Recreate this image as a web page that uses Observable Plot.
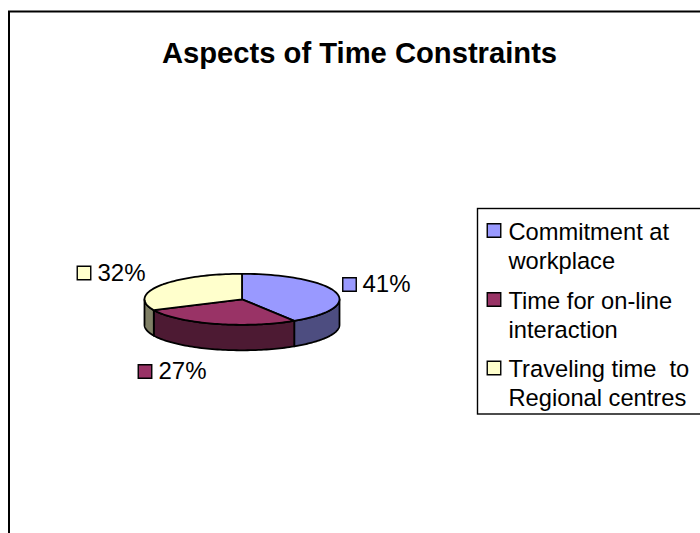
<!DOCTYPE html>
<html>
<head>
<meta charset="utf-8">
<script src="https://cdn.jsdelivr.net/npm/d3@7"></script>
<script src="https://cdn.jsdelivr.net/npm/@observablehq/plot@0.6"></script>
<style>html,body{margin:0;padding:0;background:#fff}svg{display:block}</style>
</head>
<body>
<div id="chart"></div>
<script>
const titleText = "Aspects of Time Constraints";
const categories = ["Commitment at workplace", "Time for on-line interaction", "Traveling time to Regional centres"];
const shares = [41, 27, 32];
const topColors = ["#9999ff", "#993366", "#ffffcc"];
const sideColors = ["#4d4d80", "#4d1a33", "#808066"];
const legendLines = ["Commitment at\nworkplace", "Time for on-line\ninteraction", "Traveling time  to\nRegional centres"];

// layout
const W = 700, H = 533;
const font = "Liberation Sans, Arial, sans-serif";
const pie = {cx: 241.5, cy: 298.8, rx: 97.5, ry: 25.5, depth: 25.5};
const labelAnchors = [
  {sx: 349, sy: 284, tx: 362, ty: 284},
  {sx: 144.5, sy: 371, tx: 158, ty: 371},
  {sx: 83.5, sy: 272.5, tx: 97, ty: 272.5}
];
const legendBox = {x1: 477.5, x2: 720, y1: 208.5, y2: 414};
const legendRows = [{sy: 230, ty: 245}, {sy: 299, ty: 313.5}, {sy: 367.5, ty: 381.5}];
const swatchX = 493.5, swatchR = 8.6, legendTextX = 508;

// pie geometry derived from shares
const total = d3.sum(shares);
const ends = d3.cumsum(shares).map(v => v / total * 2 * Math.PI);
const starts = ends.map((e, i) => i ? ends[i - 1] : 0);
const px = a => pie.cx + pie.rx * Math.sin(a);
const py = (a, drop = 0) => pie.cy - pie.ry * Math.cos(a) + drop;
const arc = (a0, a1) => d3.range(0, 61).map(i => a0 + (a1 - a0) * i / 60);

const sides = [], tops = [];
categories.forEach((c, i) => {
  const a0 = Math.max(starts[i], Math.PI / 2), a1 = Math.min(ends[i], 3 * Math.PI / 2);
  if (a1 > a0) {
    const angles = arc(a0, a1);
    angles.forEach(a => sides.push({key: c, x: px(a), y: py(a), color: sideColors[i]}));
    angles.slice().reverse().forEach(a => sides.push({key: c, x: px(a), y: py(a, pie.depth), color: sideColors[i]}));
  }
  tops.push({key: c, x: pie.cx, y: pie.cy, color: topColors[i]});
  arc(starts[i], ends[i]).forEach(a => tops.push({key: c, x: px(a), y: py(a), color: topColors[i]}));
});

const pieLabels = shares.map((v, i) => ({text: v + "%", color: topColors[i], ...labelAnchors[i]}));
const legendData = legendLines.map((t, i) => ({text: t, color: topColors[i], ...legendRows[i]}));
const swatches = [
  ...pieLabels.map(d => ({x: d.sx, y: d.sy, color: d.color})),
  ...legendData.map(d => ({x: swatchX, y: d.sy, color: d.color}))
];

const chart = Plot.plot({
  width: W, height: H,
  marginLeft: 8.5, marginTop: 11, marginRight: -20, marginBottom: -20,
  x: {domain: [8.5, 720], range: [8.5, 720], axis: null},
  y: {domain: [11, 553], range: [11, 553], axis: null},
  style: {background: "#fff", fontFamily: font, overflow: "hidden"},
  marks: [
    Plot.frame({stroke: "#000", strokeWidth: 2}),
    Plot.text([titleText], {
      x: () => 359, y: () => 53, text: d => d,
      fontFamily: font, fontWeight: "bold", fontSize: 29.2, fill: "#000"
    }),
    Plot.line(sides, {x: "x", y: "y", z: "key", fill: "color", stroke: "#000", strokeWidth: 1.8, curve: "linear-closed"}),
    Plot.line(tops, {x: "x", y: "y", z: "key", fill: "color", stroke: "#000", strokeWidth: 1.8, curve: "linear-closed"}),
    Plot.rect([legendBox], {x1: "x1", x2: "x2", y1: "y1", y2: "y2", fill: "#fff", stroke: "#000", strokeWidth: 1.4}),
    Plot.dot(swatches, {x: "x", y: "y", symbol: "square2", r: swatchR, fill: "color", stroke: "#000", strokeWidth: 1.4}),
    Plot.text(pieLabels, {x: "tx", y: "ty", text: "text", textAnchor: "start", fontFamily: font, fontSize: 24, fill: "#000"}),
    Plot.text(legendData, {x: () => legendTextX, y: "ty", text: "text", textAnchor: "start", lineHeight: 1.23, fontFamily: font, fontSize: 23.7, fill: "#000"})
  ]
});
document.getElementById("chart").appendChild(chart);
</script>
</body>
</html>
